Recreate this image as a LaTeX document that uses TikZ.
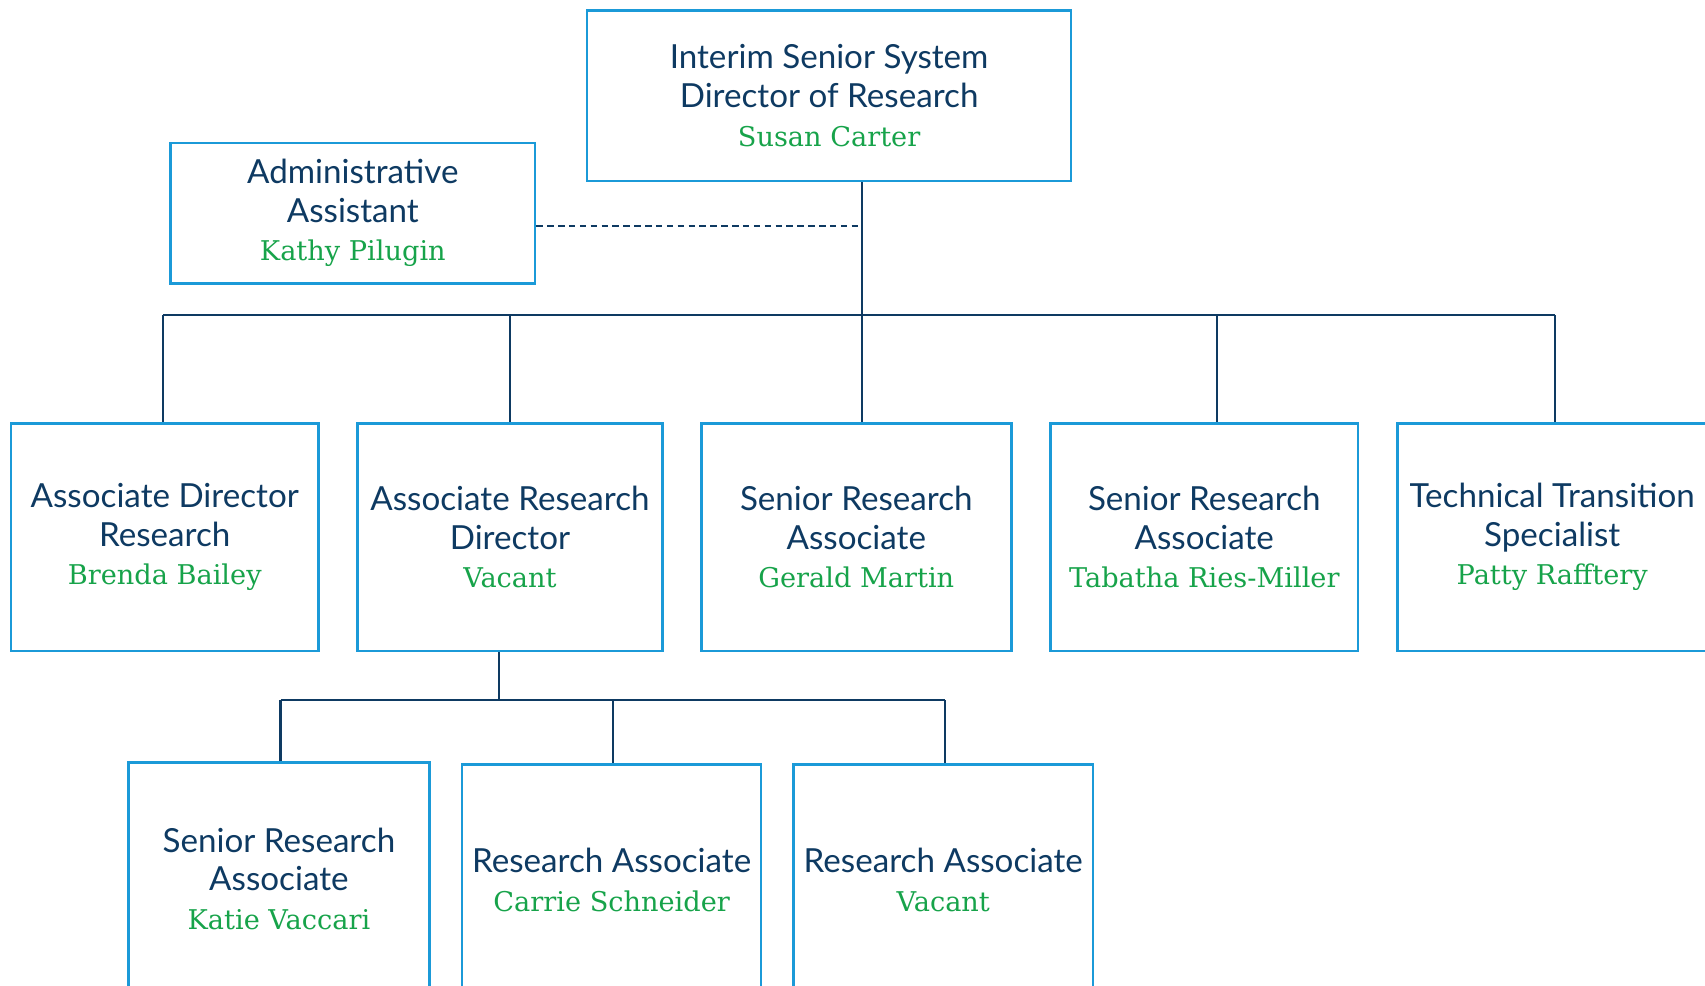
\documentclass[tikz,border=0pt]{standalone}
\usepackage{fontspec}
\setmainfont{Lato}
\newfontfamily\namefont{DejaVu Serif}
\definecolor{boxblue}{HTML}{1B9AD8}
\definecolor{navy}{HTML}{0E3A62}
\definecolor{namegreen}{HTML}{17A34A}
\newcommand\pname[1]{{\namefont\fontsize{25}{35.5}\selectfont\color{namegreen}#1}}
\tikzset{
  orgbox/.style={draw=boxblue, line width=2.4pt, rectangle, align=center,
    text=navy, font=\fontsize{30.5}{35.5}\selectfont, inner sep=0pt},
  link/.style={draw=navy, line width=2pt},
  dashlink/.style={draw=navy, line width=1.6pt, dash pattern=on 6pt off 4pt}
}
\begin{document}
\begin{tikzpicture}[x=1pt,y=-1pt]
\useasboundingbox (0,0) rectangle (1568,906);
\clip (0,0) rectangle (1568,906);
% boxes
\node[orgbox, minimum width=445pt, minimum height=157pt] (top) at (762.5,88)
  {Interim Senior System\\Director of Research\\\pname{Susan Carter}};
\path (top.north west) ++(0,-1) coordinate (dummy);
\node[orgbox, minimum width=335pt, minimum height=129pt] (admin) at (324.5,196)
  {Administrative\\Assistant\\\pname{Kathy Pilugin}};
\node[orgbox, minimum width=283pt, minimum height=209pt] (A) at (151.5,494)
  {Associate Director\\Research\\\pname{Brenda Bailey}};
\node[orgbox, minimum width=280pt, minimum height=209pt] (B) at (469,494)
  {Associate Research\\Director\\\pname{Vacant}};
\node[orgbox, minimum width=285pt, minimum height=209pt] (C) at (787.5,494)
  {Senior Research\\Associate\\\pname{Gerald Martin}};
\node[orgbox, minimum width=283pt, minimum height=209pt] (D) at (1107.5,494)
  {Senior Research\\Associate\\\pname{Tabatha Ries-Miller}};
\node[orgbox, minimum width=285pt, minimum height=209pt] (E) at (1427.5,494)
  {Technical Transition\\Specialist\\\pname{Patty Rafftery}};
\node[orgbox, minimum width=277pt, minimum height=214pt] (F) at (256.5,808)
  {Senior Research\\Associate\\\pname{Katie Vaccari}};
\node[orgbox, minimum width=275pt, minimum height=212pt] (G) at (562.5,809)
  {Research Associate\\\pname{Carrie Schneider}};
\node[orgbox, minimum width=275pt, minimum height=212pt] (H) at (867.5,809)
  {Research Associate\\\pname{Vacant}};
% junction coordinates
\coordinate (j0) at (793,290);
\coordinate (dj) at (793,208);
\coordinate (dA) at (150,290);
\coordinate (dB) at (469,290);
\coordinate (dC) at (793,290);
\coordinate (dD) at (1119,290);
\coordinate (dE) at (1430,290);
\coordinate (b0) at (459,644);
\coordinate (dF) at (258,644);
\coordinate (dG) at (564,644);
\coordinate (dH) at (869,644);
% connectors
\draw[link] (top.south -| j0) -- (j0);
\draw[dashlink] (admin.east |- dj) -- (dj);
\draw[link] (dA) -- (dE);
\draw[link] (dA) -- (dA |- A.north);
\draw[link] (dB) -- (dB |- B.north);
\draw[link] (dC) -- (dC |- C.north);
\draw[link] (dD) -- (dD |- D.north);
\draw[link] (dE) -- (dE |- E.north);
\draw[link] (B.south -| b0) -- (b0);
\draw[link] (dF) -- (dH);
\draw[link] (dF) -- (dF |- F.north);
\draw[link] (dG) -- (dG |- G.north);
\draw[link] (dH) -- (dH |- H.north);
\end{tikzpicture}
\end{document}
